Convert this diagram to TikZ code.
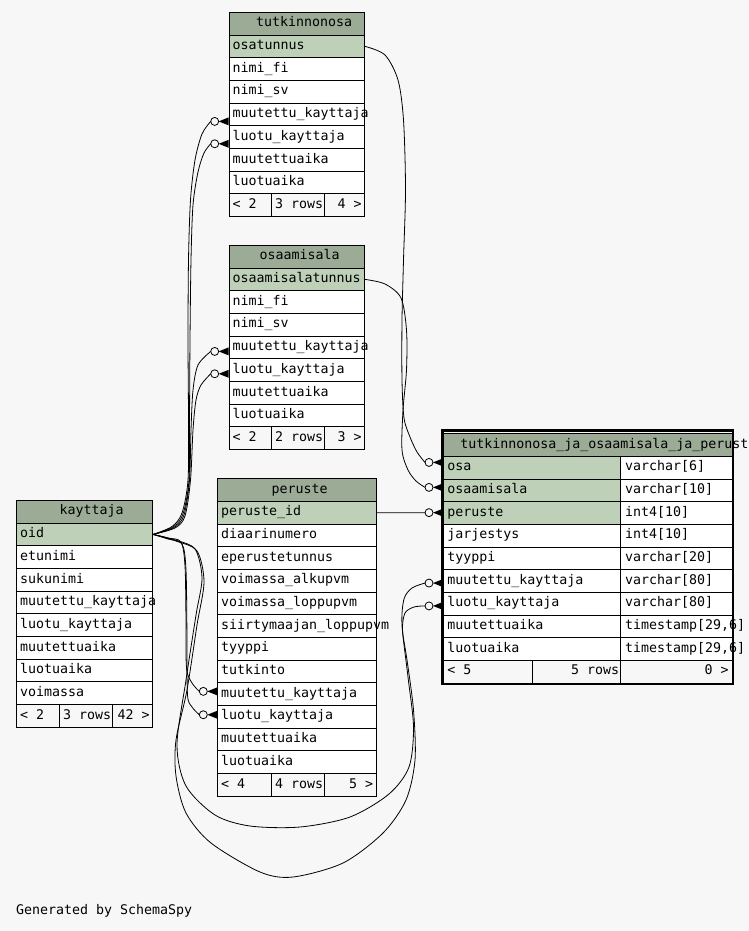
\documentclass[tikz,border=0pt]{standalone}
\usepackage{fontspec}
\newfontfamily\monofam{DejaVu Sans Mono}
\usetikzlibrary{calc}
\definecolor{bgc}{HTML}{F7F7F7}
\definecolor{hdr}{HTML}{9BAB96}
\definecolor{keyc}{HTML}{BED1B8}
\newcommand\tf{\monofam\fontsize{13.29pt}{16pt}\selectfont}
\newcommand\sq{\hbox to 8pt{}}
\tikzset{
  cell/.style={draw=black, line width=0.8pt, anchor=north west, minimum height=22.67pt,
    inner ysep=0pt, inner xsep=3.5pt, text height=9pt, text depth=2.5pt, align=left,
    font=\tf, fill=white},
  rcell/.style={cell, align=right, inner xsep=3pt},
  edge/.style={draw=black, line width=0.8pt},
  crowc/.style={draw=black, line width=0.8pt},
}
\newcommand\crowend[3]{%
  \path ($(#1.west)+(0,#2)$) coordinate (#3T) ++(-14,0) coordinate (#3C) ++(-4,0) coordinate (#3);
}
\newcommand\crowdraw[1]{%
  \draw[crowc] (#1C) circle[radius=4pt];
  \fill ($(#1C)+(4,0)$) -- ($(#1T)+(0,-4)$) -- ($(#1T)+(0,4)$) -- cycle;
}
\begin{document}
\begin{tikzpicture}[x=1pt,y=-1pt]
\fill[bgc] (0,0) rectangle (749,931);
\useasboundingbox (0,0) rectangle (749,931);

% ---------- tutkinnonosa ----------
\node[cell, fill=hdr, minimum width=135.6pt, text width=128.6pt] (tutH) at (228.7,12) {\mbox{\hspace*{23.5pt}tutkinnonosa}};
\node[cell, fill=keyc, minimum width=135.6pt, text width=128.6pt] (tut1) at (228.7,34.67) {\mbox{osatunnus}};
\foreach \txt [count=\i from 2] in {nimi\_fi, nimi\_sv, muutettu\_kayttaja, luotu\_kayttaja, muutettuaika, luotuaika}{
  \pgfmathsetmacro\yy{12+22.67*\i}
  \node[cell, minimum width=135.6pt, text width=128.6pt] (tut\i) at (228.7,\yy) {\mbox{\txt}};
}
\node[cell, fill=bgc, minimum width=42.6pt, text width=35.6pt] (tutF1) at (228.7,193.36) {\mbox{<\sq2}};
\node[cell, fill=bgc, minimum width=52.4pt, text width=45.4pt] (tutF2) at (271.3,193.36) {\mbox{3\sq rows}};
\node[rcell, fill=bgc, minimum width=40.6pt, text width=34.6pt] (tutF3) at (323.7,193.36) {\mbox{4\sq>}};

% ---------- osaamisala ----------
\node[cell, fill=hdr, minimum width=135.6pt, text width=128.6pt] (osaH) at (228.7,245) {\mbox{\hspace*{27.1pt}osaamisala}};
\node[cell, fill=keyc, minimum width=135.6pt, text width=128.6pt] (osa1) at (228.7,267.67) {\mbox{osaamisalatunnus}};
\foreach \txt [count=\i from 2] in {nimi\_fi, nimi\_sv, muutettu\_kayttaja, luotu\_kayttaja, muutettuaika, luotuaika}{
  \pgfmathsetmacro\yy{245+22.67*\i}
  \node[cell, minimum width=135.6pt, text width=128.6pt] (osa\i) at (228.7,\yy) {\mbox{\txt}};
}
\node[cell, fill=bgc, minimum width=42.6pt, text width=35.6pt] (osaF1) at (228.7,426.36) {\mbox{<\sq2}};
\node[cell, fill=bgc, minimum width=52.4pt, text width=45.4pt] (osaF2) at (271.3,426.36) {\mbox{2\sq rows}};
\node[rcell, fill=bgc, minimum width=40.6pt, text width=34.6pt] (osaF3) at (323.7,426.36) {\mbox{3\sq>}};

% ---------- peruste ----------
\node[cell, fill=hdr, minimum width=158.4pt, text width=151.4pt] (perH) at (217.3,478.3) {\mbox{\hspace*{50.5pt}peruste}};
\node[cell, fill=keyc, minimum width=158.4pt, text width=151.4pt] (per1) at (217.3,500.97) {\mbox{peruste\_id}};
\foreach \txt [count=\i from 2] in {diaarinumero, eperustetunnus, voimassa\_alkupvm, voimassa\_loppupvm, siirtymaajan\_loppupvm, tyyppi, tutkinto, muutettu\_kayttaja, luotu\_kayttaja, muutettuaika, luotuaika}{
  \pgfmathsetmacro\yy{478.3+22.67*\i}
  \node[cell, minimum width=158.4pt, text width=151.4pt] (per\i) at (217.3,\yy) {\mbox{\txt}};
}
\node[cell, fill=bgc, minimum width=54pt, text width=47pt] (perF1) at (217.3,773.01) {\mbox{<\sq4}};
\node[cell, fill=bgc, minimum width=52.4pt, text width=45.4pt] (perF2) at (271.3,773.01) {\mbox{4\sq rows}};
\node[rcell, fill=bgc, minimum width=52pt, text width=46pt] (perF3) at (323.7,773.01) {\mbox{5\sq>}};

% ---------- kayttaja ----------
\node[cell, fill=hdr, minimum width=136pt, text width=129pt] (kayH) at (16.3,500) {\mbox{\hspace*{39.5pt}kayttaja}};
\node[cell, fill=keyc, minimum width=136pt, text width=129pt] (kay1) at (16.3,522.67) {\mbox{oid}};
\foreach \txt [count=\i from 2] in {etunimi, sukunimi, muutettu\_kayttaja, luotu\_kayttaja, muutettuaika, luotuaika, voimassa}{
  \pgfmathsetmacro\yy{500+22.67*\i}
  \node[cell, minimum width=136pt, text width=129pt] (kay\i) at (16.3,\yy) {\mbox{\txt}};
}
\node[cell, fill=bgc, minimum width=43pt, text width=36pt] (kayF1) at (16.3,704.03) {\mbox{<\sq2}};
\node[cell, fill=bgc, minimum width=52.4pt, text width=45.4pt] (kayF2) at (59.3,704.03) {\mbox{3\sq rows}};
\node[rcell, fill=bgc, minimum width=40.6pt, text width=34.6pt] (kayF3) at (111.7,704.03) {\mbox{42\sq>}};

% ---------- tutkinnonosa_ja_osaamisala_ja_peruste ----------
\tikzset{lc/.style={cell, inner xsep=4pt, minimum width=177.3pt, text width=169.3pt},
         vc/.style={cell, inner xsep=4.5pt, minimum width=111.4pt, text width=102.4pt}}
\node[cell, fill=hdr, minimum width=288.7pt, text width=281.7pt] (bH) at (443,433.3) {\mbox{\hspace*{13.5pt}tutkinnonosa\_ja\_osaamisala\_ja\_peruste}};
\node[lc, fill=keyc] (b1) at (443,456.0) {\mbox{osa}};
\node[vc] (bv1) at (620.3,456.0) {\mbox{varchar[6]}};
\node[lc, fill=keyc] (b2) at (443,478.64) {\mbox{osaamisala}};
\node[vc] (bv2) at (620.3,478.64) {\mbox{varchar[10]}};
\node[lc, fill=keyc] (b3) at (443,501.31) {\mbox{peruste}};
\node[vc] (bv3) at (620.3,501.31) {\mbox{int4[10]}};
\node[lc] (b4) at (443,523.98) {\mbox{jarjestys}};
\node[vc] (bv4) at (620.3,523.98) {\mbox{int4[10]}};
\node[lc] (b5) at (443,546.65) {\mbox{tyyppi}};
\node[vc] (bv5) at (620.3,546.65) {\mbox{varchar[20]}};
\node[lc] (b6) at (443,569.32) {\mbox{muutettu\_kayttaja}};
\node[vc] (bv6) at (620.3,569.32) {\mbox{varchar[80]}};
\node[lc] (b7) at (443,591.99) {\mbox{luotu\_kayttaja}};
\node[vc] (bv7) at (620.3,591.99) {\mbox{varchar[80]}};
\node[lc] (b8) at (443,614.66) {\mbox{muutettuaika}};
\node[vc] (bv8) at (620.3,614.66) {\mbox{timestamp[29,6]}};
\node[lc] (b9) at (443,637.33) {\mbox{luotuaika}};
\node[vc] (bv9) at (620.3,637.33) {\mbox{timestamp[29,6]}};
\node[cell, fill=bgc, inner xsep=4pt, minimum width=89.3pt, text width=81.3pt] (bF1) at (443,660) {\mbox{<\sq5}};
\node[rcell, fill=bgc, inner xsep=1.5pt, minimum width=88pt, text width=85pt] (bF2) at (532.3,660) {\mbox{5\sq rows}};
\node[rcell, fill=bgc, inner xsep=3.4pt, minimum width=111.4pt, text width=104.6pt] (bF3) at (620.3,660) {\mbox{0\sq>}};
\draw[line width=2.8pt] (442.3,430.8) rectangle (733,684);

% ---------- connector ends ----------
\crowend{tut4}{7}{eTM}
\crowend{tut5}{6.7}{eTL}
\crowend{osa4}{4}{eOM}
\crowend{osa5}{3.7}{eOL}
\crowend{per9}{-2.7}{ePM}
\crowend{per10}{-2}{ePL}
\crowend{b1}{-5.3}{eBo}
\crowend{b2}{-3}{eBs}
\crowend{b3}{-0.4}{eBp}
\crowend{b6}{2}{eBM}
\crowend{b7}{2.2}{eBL}

% ---------- connectors ----------
\draw[edge] plot[smooth, tension=0.5] coordinates {(tut1.east) (385,55) (398,80) (403.5,120) (405.5,190) (403.5,260) (402,320) (402,380) (404,418) (410,437) (417,452) (eBo)};
\draw[edge] plot[smooth, tension=0.5] coordinates {(osa1.east) (385,284) (401,298) (406.5,330) (406.5,370) (403,410) (402,450) (408,470) (416,481) (eBs)};
\draw[edge] (per1.east) -- (eBp);

\draw[edge] plot[smooth, tension=0.5] coordinates {(kay1.east) (172,526.5) (182,513) (188,480) (188.5,420) (188,340) (188.5,260) (190.5,200) (195,160) (202,134) (eTM)};
\draw[edge] plot[smooth, tension=0.5] coordinates {(kay1.east) (173,527) (183,514) (189,480) (189.5,420) (190,340) (191,260) (193,205) (198,172) (204,153) (eTL)};
\draw[edge] plot[smooth, tension=0.5] coordinates {(kay1.east) (174,527.5) (184,515) (189.5,480) (191,430) (193,390) (198,365) (eOM)};
\draw[edge] plot[smooth, tension=0.5] coordinates {(kay1.east) (175,528) (185,516) (190.5,480) (193,430) (196,400) (201,385) (eOL)};
\draw[edge] plot[smooth, tension=0.5] coordinates {(kay1.east) (168,538) (181,542) (185,566) (186,620) (186.5,668) (192,683) (ePM)};
\draw[edge] plot[smooth, tension=0.5] coordinates {(kay1.east) (168,539) (182,544) (186,570) (187,640) (187.5,695) (192,707) (ePL)};
\draw[edge] plot[smooth, tension=0.5] coordinates {(kay1.east) (175,540) (195,549) (202,578) (196,615) (186,680) (177,745) (186,786) (215,815) (250,826) (300,827) (350,817) (389,794) (409,767) (413.5,727) (408,677) (402,625) (404,599) (412,588) (eBM)};
\draw[edge] plot[smooth, tension=0.5] coordinates {(kay1.east) (176,541) (197,551) (204,582) (197,625) (187,690) (176,740) (176,776) (186,813) (211,843) (260,872) (293,877) (343,863) (383,833) (406,800) (415,760) (413.5,710) (407,660) (402.5,630) (405,613) (414,607) (eBL)};

\crowdraw{eTM}
\crowdraw{eTL}
\crowdraw{eOM}
\crowdraw{eOL}
\crowdraw{ePM}
\crowdraw{ePL}
\crowdraw{eBo}
\crowdraw{eBs}
\crowdraw{eBp}
\crowdraw{eBM}
\crowdraw{eBL}

\node[font=\tf, anchor=base west, inner sep=0pt] (gen) at (16,914) {Generated\sq by\sq SchemaSpy};
\end{tikzpicture}
\end{document}
